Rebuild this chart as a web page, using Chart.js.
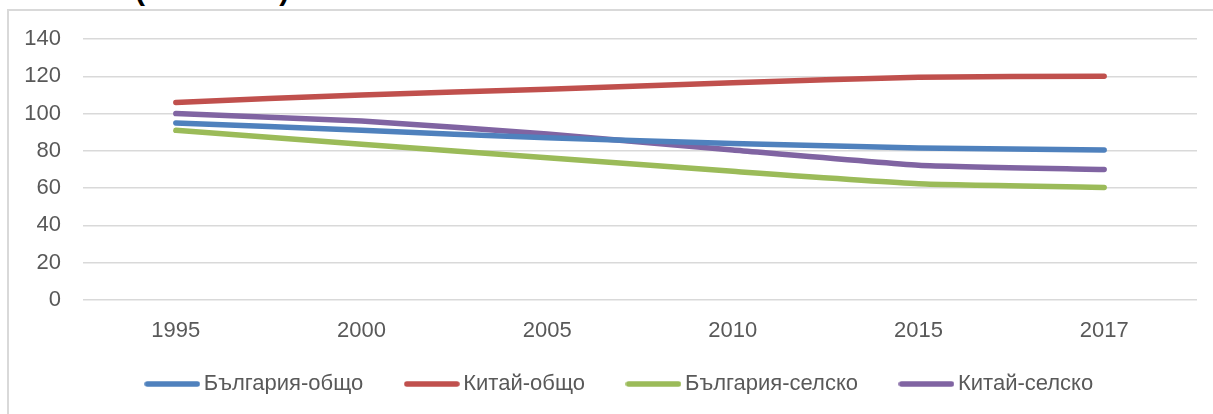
<!DOCTYPE html>
<html>
<head>
<meta charset="utf-8">
<script src="https://cdn.jsdelivr.net/npm/chart.js@4.4.1/dist/chart.umd.min.js"></script>
<style>
    html, body { margin: 0; padding: 0; background: #fff; overflow: hidden; }
    #wrap { position: relative; width: 1213px; height: 414px; overflow: hidden; }
    #frame { position: absolute; left: 7px; top: 9px; right: 0; bottom: 0; border-top: 2px solid #d9d9d9; border-left: 2px solid #d9d9d9; }
    #title { position: absolute; left: 135px; top: -25px; font: bold 30px "Liberation Sans", Arial, sans-serif; line-height: 30px; color: #000; white-space: nowrap; }
    #c { position: absolute; left: 0; top: 0; }
</style>
</head>
<body>
<div id="wrap">
    <div id="title">(1995=100)</div>
    <div id="frame"></div>
    <canvas id="c" width="1213" height="414"></canvas>
</div>
<script>
// години
const years = ["1995", "2000", "2005", "2010", "2015", "2017"];

// индекси (1995=100)
const bgTotal = [95, 91, 87, 84, 81.5, 80.5];
const cnTotal = [106, 110, 113, 116.5, 119.5, 120];
const bgRural = [91, 83.5, 76.3, 69, 62.4, 60.4];
const cnRural = [100, 96, 89, 80.5, 72.3, 70];

const yTicks = [0, 20, 40, 60, 80, 100, 120, 140];

const fontName = '"Liberation Sans", Arial, sans-serif';

// линия за легендата (по-дълга от кутията, за да е близо до текста)
function legendLine(color) {
    const c = document.createElement("canvas");
    c.width = 56;
    c.height = 8;
    const g = c.getContext("2d");
    g.strokeStyle = color;
    g.lineWidth = 5.5;
    g.lineCap = "round";
    g.beginPath();
    g.moveTo(3, 4);
    g.lineTo(53, 4);
    g.stroke();
    return c;
}

function series(label, data, color) {
    return {
        label: label,
        data: data,
        borderColor: color,
        backgroundColor: color,
        borderWidth: 5.5,
        borderCapStyle: "round",
        borderJoinStyle: "round",
        pointRadius: 0,
        pointHoverRadius: 0,
        pointStyle: legendLine(color),
        tension: 0.15,
        fill: false,
    };
}

// мести легендата малко нагоре и надясно
const legendShift = {
    id: "legendShift",
    afterLayout(chart) {
        const lg = chart.legend;
        lg.left += 24;
        lg.right += 24;
        lg.top -= 20;
        lg.bottom -= 20;
    },
};

const ctx = document.getElementById("c").getContext("2d");
const chart = new Chart(ctx, {
    type: "line",
    data: {
        labels: years,
        datasets: [
            series("България-общо", bgTotal, "#4f81bd"),
            series("Китай-общо", cnTotal, "#c0504d"),
            series("България-селско", bgRural, "#9bbb59"),
            series("Китай-селско", cnRural, "#8064a2"),
        ],
    },
    options: {
        responsive: false,
        animation: false,
        layout: { padding: { top: 39, right: 16, bottom: 0, left: 0 } },
        plugins: {
            tooltip: { enabled: false },
            legend: {
                position: "bottom",
                maxHeight: 69,
                labels: {
                    usePointStyle: true,
                    pointStyleWidth: 41,
                    boxHeight: 22,
                    padding: 48,
                    color: "#595959",
                    font: { family: fontName, size: 22 },
                },
            },
        },
        scales: {
            x: {
                offset: true,
                grid: { display: false, drawTicks: false },
                border: { display: false },
                ticks: { color: "#595959", padding: 18, font: { family: fontName, size: 22 }, maxRotation: 0 },
                afterFit: (scale) => { scale.height = 45; },
            },
            y: {
                min: 0,
                max: 140,
                afterBuildTicks: (scale) => { scale.ticks = yTicks.map((v) => ({ value: v })); },
                grid: { color: "#d9d9d9", lineWidth: 1.5, drawTicks: false },
                border: { display: false },
                ticks: { color: "#595959", padding: 22, font: { family: fontName, size: 22 } },
                afterFit: (scale) => { scale.width = 83; },
            },
        },
    },
    plugins: [legendShift],
});
</script>
</body>
</html>
